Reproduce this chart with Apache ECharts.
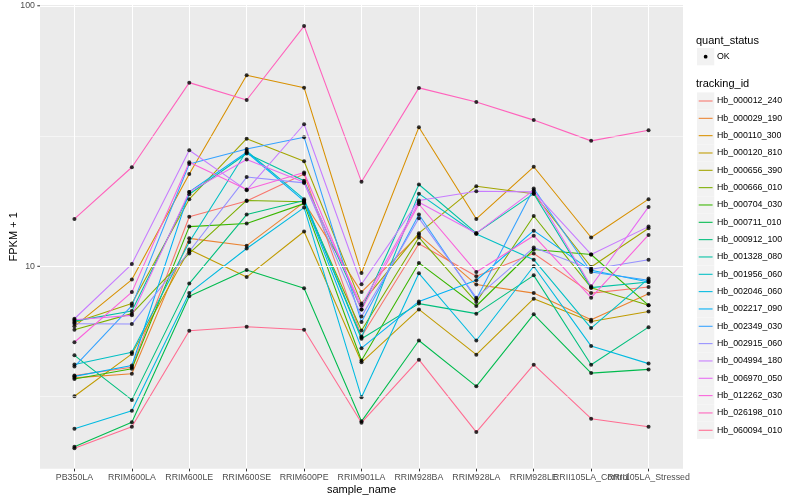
<!DOCTYPE html>
<html><head><meta charset="utf-8">
<script src="https://cdn.jsdelivr.net/npm/echarts@6/dist/echarts.min.js"></script>
<style>html,body{margin:0;padding:0;background:#fff}#c{width:800px;height:500px}</style>
</head><body><div id="c"></div>
<script>
// ---------- data ----------
const categories = ['PB350LA','RRIM600LA','RRIM600LE','RRIM600SE','RRIM600PE','RRIM901LA','RRIM928BA','RRIM928LA','RRIM928LE','RRII105LA_Control','RRII105LA_Stressed'];
const trackingIds = ['Hb_000012_240','Hb_000029_190','Hb_000110_300','Hb_000120_810','Hb_000656_390','Hb_000666_010','Hb_000704_030','Hb_000711_010','Hb_000912_100','Hb_001328_080','Hb_001956_060','Hb_002046_060','Hb_002217_090','Hb_002349_030','Hb_002915_060','Hb_004994_180','Hb_006970_050','Hb_012262_030','Hb_026198_010','Hb_060094_010'];
const colors = ['#F8766D','#EA8331','#D89000','#C09B00','#A3A500','#7CAE00','#39B600','#00BB4E','#00BF7D','#00C1A3','#00BFC4','#00BAE0','#00B0F6','#35A2FF','#9590FF','#C77CFF','#E76BF3','#FA62DB','#FF62BC','#FF6C91'];

const hb_000012_240 = [3.81, 4.10, 15.5, 17.8, 22.6, 5.38, 12.2, 9.15, 11.2, 7.89, 8.33];
const hb_000029_190 = [3.73, 3.87, 12.8, 12.0, 17.6, 7.96, 13.2, 8.51, 7.89, 6.24, 7.85];
const hb_000110_300 = [5.88, 8.89, 22.6, 54.1, 48.5, 9.42, 34.2, 15.2, 24.1, 12.9, 18.1];
const hb_000120_810 = [3.17, 4.61, 11.6, 9.09, 13.6, 4.28, 6.83, 4.58, 7.51, 6.14, 6.71];
const hb_000656_390 = [6.09, 7.19, 18.1, 30.9, 25.3, 7.19, 13.4, 20.3, 19.0, 9.94, 14.0];
const hb_000666_010 = [5.71, 6.58, 11.2, 17.9, 17.7, 5.67, 12.9, 7.29, 15.6, 8.28, 7.08];
const hb_000704_030 = [3.69, 4.04, 14.2, 14.6, 17.4, 4.35, 10.3, 7.04, 11.6, 11.1, 7.08];
const hb_000711_010 = [2.03, 2.52, 7.67, 9.68, 8.23, 2.54, 5.19, 3.46, 6.54, 3.89, 4.02];
const hb_000912_100 = [4.55, 3.07, 8.58, 15.8, 17.9, 5.27, 7.19, 6.58, 9.23, 4.19, 5.84];
const hb_001328_080 = [6.16, 6.73, 18.9, 27.1, 21.3, 6.82, 20.6, 13.4, 19.0, 8.28, 8.70];
const hb_001956_060 = [4.20, 4.68, 12.4, 27.7, 18.1, 5.33, 19.0, 13.3, 10.6, 5.79, 8.97];
const hb_002046_060 = [2.38, 2.79, 7.89, 11.7, 16.8, 3.14, 9.40, 5.19, 10.0, 4.94, 4.23];
const hb_002217_090 = [3.78, 4.16, 19.3, 27.4, 17.8, 4.85, 7.33, 8.84, 13.7, 9.65, 8.70];
const hb_002349_030 = [4.12, 7.06, 24.7, 28.2, 31.3, 6.11, 15.8, 7.47, 19.9, 9.51, 8.84];
const hb_002915_060 = [6.02, 6.00, 11.4, 22.0, 20.9, 6.42, 15.3, 7.58, 11.8, 9.74, 10.6];
const hb_004994_180 = [6.29, 10.2, 27.9, 19.6, 35.1, 8.53, 17.9, 19.4, 19.3, 11.1, 14.2];
const hb_006970_050 = [6.23, 6.48, 19.3, 25.7, 21.0, 7.08, 17.6, 13.4, 19.6, 8.38, 16.9];
const hb_012262_030 = [5.11, 7.96, 25.1, 19.7, 22.9, 6.82, 17.3, 9.51, 13.1, 7.58, 13.2];
const hb_026198_010 = [15.2, 24.0, 50.7, 43.5, 83.6, 21.1, 48.4, 42.7, 36.4, 30.3, 33.3];
const hb_060094_010 = [2.00, 2.42, 5.66, 5.86, 5.71, 2.51, 4.38, 2.31, 4.19, 2.60, 2.42];

const seriesValues = [hb_000012_240,hb_000029_190,hb_000110_300,hb_000120_810,hb_000656_390,hb_000666_010,hb_000704_030,hb_000711_010,hb_000912_100,hb_001328_080,hb_001956_060,hb_002046_060,hb_002217_090,hb_002349_030,hb_002915_060,hb_004994_180,hb_006970_050,hb_012262_030,hb_026198_010,hb_060094_010];

const yMajorTicks = [10, 100];
const yMinorTicks = [3.162, 31.62];
const yMin = 1.671, yMax = 100.7;

// ---------- layout ----------
const FONT = '"Liberation Sans", Arial, Helvetica, sans-serif';
const PL = 40, PR = 683, PT = 5, PB = 468.7;
const step = (PR - PL) / 11.2;
const chart = echarts.init(document.getElementById('c'), null, {renderer: 'canvas'});

const series = [];
series.push({
  type: 'line', xAxisIndex: 0, yAxisIndex: 0, data: [[0.5, 10]], showSymbol: false,
  lineStyle: {opacity: 0}, z: 1, silent: true,
  markLine: {
    silent: true, symbol: 'none', label: {show: false}, animation: false,
    data: yMajorTicks.map(v => ({yAxis: v, lineStyle: {color: '#FFFFFF', width: 1.07, type: 'solid'}}))
      .concat(yMinorTicks.map(v => ({yAxis: v, lineStyle: {color: '#FFFFFF', width: 0.53, type: 'solid'}})))
  }
});
trackingIds.forEach((id, i) => {
  series.push({
    name: id, type: 'line', xAxisIndex: 1, yAxisIndex: 1, data: seriesValues[i],
    showSymbol: false, symbol: 'none', z: 2, silent: true,
    lineStyle: {color: colors[i], width: 1.07}
  });
});
trackingIds.forEach((id, i) => {
  series.push({
    name: id + '_pts', type: 'scatter', xAxisIndex: 1, yAxisIndex: 1, data: seriesValues[i],
    symbol: 'circle', symbolSize: 4, z: 3, silent: true,
    itemStyle: {color: '#000000'}
  });
});

const option = {
  animation: false,
  backgroundColor: '#FFFFFF',
  textStyle: {fontFamily: FONT},
  grid: [
    {left: PL, top: PT, width: PR - PL, height: PB - PT, show: true, backgroundColor: '#EBEBEB', borderWidth: 0, containLabel: false, outerBoundsMode: 'none'},
    {left: PL + 0.6 * step, top: PT, width: 10 * step, height: PB - PT, show: false, containLabel: false, outerBoundsMode: 'none'}
  ],
  xAxis: [
    {gridIndex: 0, type: 'value', min: 0, max: 1, show: false},
    {gridIndex: 1, type: 'category', data: categories, boundaryGap: false,
     axisLine: {show: false},
     axisTick: {show: true, length: 2.7, lineStyle: {color: '#333333', width: 1}, interval: 0},
     axisLabel: {interval: 0, color: '#4D4D4D', fontSize: 8.8, fontFamily: FONT, margin: 4.5},
     splitLine: {show: true, interval: 0, lineStyle: {color: '#FFFFFF', width: 1.07}},
     name: 'sample_name', nameLocation: 'middle', nameGap: 16, nameMoveOverlap: false,
     nameTextStyle: {color: '#000000', fontSize: 11, fontFamily: FONT}}
  ],
  yAxis: [
    {gridIndex: 0, type: 'log', logBase: 10, min: yMin, max: yMax,
     axisLine: {show: false, onZero: false}, axisTick: {show: false}, splitLine: {show: false}, minorSplitLine: {show: false},
     axisLabel: {color: '#4D4D4D', fontSize: 8.8, fontFamily: FONT, margin: 5, align: 'right',
       showMinLabel: false,
       formatter: v => (yMajorTicks.indexOf(Math.round(v * 1000) / 1000) >= 0 ? String(Math.round(v)) : '')},
     name: 'FPKM + 1', nameLocation: 'middle', nameGap: 21, nameRotate: 90, nameMoveOverlap: false,
     nameTextStyle: {color: '#000000', fontSize: 11, fontFamily: FONT}},
    {gridIndex: 1, type: 'log', logBase: 10, min: yMin, max: yMax, show: false, splitLine: {show: false}}
  ],
  series: series
};
chart.setOption(option);

// ---------- ticks & legend (graphic) ----------
const g = [];
yMajorTicks.forEach(v => {
  const py = chart.convertToPixel({yAxisIndex: 0}, v);
  g.push({type: 'line', shape: {x1: PL - 2.7, y1: py, x2: PL, y2: py}, style: {stroke: '#333333', lineWidth: 1}, silent: true});
});
const LX = 697, KEY = 17.28;
g.push({type: 'text', x: 696, y: 40.7, style: {text: 'quant_status', font: '11px ' + FONT, fill: '#000', verticalAlign: 'middle', align: 'left'}, silent: true});
g.push({type: 'rect', shape: {x: LX, y: 56.7 - KEY / 2, width: KEY, height: KEY}, style: {fill: '#F2F2F2'}, silent: true});
g.push({type: 'circle', shape: {cx: LX + KEY / 2, cy: 56.7, r: 1.9}, style: {fill: '#000'}, silent: true});
g.push({type: 'text', x: 717, y: 56.7, style: {text: 'OK', font: '8.8px ' + FONT, fill: '#000', verticalAlign: 'middle', align: 'left'}, silent: true});
g.push({type: 'text', x: 696, y: 84.3, style: {text: 'tracking_id', font: '11px ' + FONT, fill: '#000', verticalAlign: 'middle', align: 'left'}, silent: true});
trackingIds.forEach((id, i) => {
  const cy = 101 + i * 17.33;
  g.push({type: 'rect', shape: {x: LX, y: cy - KEY / 2, width: KEY, height: KEY}, style: {fill: '#F2F2F2'}, silent: true});
  g.push({type: 'line', shape: {x1: LX + 1.7, y1: cy, x2: LX + KEY - 1.7, y2: cy}, style: {stroke: colors[i], lineWidth: 1.07}, silent: true});
  g.push({type: 'text', x: 717, y: cy, style: {text: id, font: '8.8px ' + FONT, fill: '#000', verticalAlign: 'middle', align: 'left'}, silent: true});
});
chart.setOption({graphic: g});
</script>
</body></html>
